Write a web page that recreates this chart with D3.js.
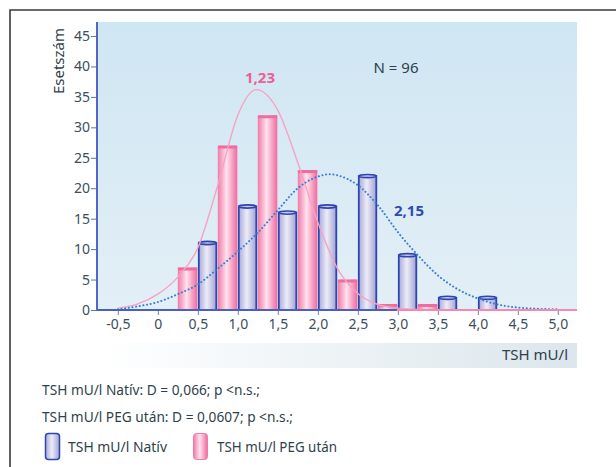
<!DOCTYPE html>
<html>
<head>
<meta charset="utf-8">
<script src="https://cdn.jsdelivr.net/npm/d3@7"></script>
<style>
body { margin: 0; background: #fff; }
svg text { font-family: "Noto Sans", "Open Sans", sans-serif; }
</style>
</head>
<body>
<div id="svg-area"></div>
<script>
var svgWidth = 616;
var svgHeight = 467;

// histogram bins (TSH mU/l) and counts
var binCenters = [0.5, 1.0, 1.5, 2.0, 2.5, 3.0, 3.5, 4.0];
var nativCounts = [11, 17, 16, 17, 22, 9, 2, 2];
var pegCounts = [7, 27, 32, 23, 5, 1, 1, 0];

// fitted curves
var nativCurveX = [-0.5, -0.25, 0, 0.25, 0.5, 0.75, 1.0, 1.25, 1.5, 1.75, 2.0, 2.15, 2.25, 2.5, 2.75, 3.0, 3.25, 3.5, 3.75, 4.0, 4.25, 4.5, 4.75, 5.0];
var nativCurveY = [0.1, 0.6, 1.3, 2.6, 4.2, 6.8, 9.6, 12.7, 16.4, 20.0, 21.9, 22.3, 22.1, 20.5, 17.2, 12.8, 9.0, 5.7, 3.4, 1.9, 0.9, 0.4, 0.2, 0.1];
var pegCurveX = [-0.5, -0.25, 0, 0.25, 0.5, 0.75, 1.0, 1.23, 1.5, 1.75, 2.0, 2.25, 2.5, 2.75, 3.0, 3.25];
var pegCurveY = [0.3, 1.0, 2.6, 5.4, 10.2, 20.5, 32.0, 36.2, 32.8, 24.2, 14.4, 6.7, 2.7, 0.9, 0.3, 0.1];

var yTicks = [0, 5, 10, 15, 20, 25, 30, 35, 40, 45];
var xTicks = [-0.5, 0, 0.5, 1.0, 1.5, 2.0, 2.5, 3.0, 3.5, 4.0, 4.5, 5.0];
var xTickLabels = ["-0,5", "0", "0,5", "1,0", "1,5", "2,0", "2,5", "3,0", "3,5", "4,0", "4,5", "5,0"];

var margin = { top: 22, right: 39, bottom: 157, left: 97 };
var width = svgWidth - margin.left - margin.right;
var height = svgHeight - margin.top - margin.bottom;

var svg = d3.select("#svg-area")
    .append("svg")
    .attr("width", svgWidth)
    .attr("height", svgHeight);

var defs = svg.append("defs");

function hGrad(id, stops) {
    var g = defs.append("linearGradient").attr("id", id)
        .attr("x1", "0").attr("x2", "1").attr("y1", "0").attr("y2", "0");
    stops.forEach(s => g.append("stop").attr("offset", s[0]).attr("stop-color", s[1]));
}
hGrad("blueGrad", [[0, "#a9a9d8"], [0.45, "#ececf8"], [1, "#a2a2d4"]]);
hGrad("pinkGrad", [[0, "#f27aa8"], [0.45, "#fde2ec"], [1, "#f06a9e"]]);
hGrad("bandGrad", [[0, "#ffffff"], [1, "#dbe6ec"]]);

var bg = defs.append("linearGradient").attr("id", "bgGrad")
    .attr("x1", "0").attr("x2", "0").attr("y1", "0").attr("y2", "1");
bg.append("stop").attr("offset", 0).attr("stop-color", "#cfe6f3");
bg.append("stop").attr("offset", 1).attr("stop-color", "#e3eff6");

defs.append("clipPath").attr("id", "plotClip")
    .append("rect").attr("width", width).attr("height", height);

// outer frame
svg.append("path")
    .attr("d", "M10,467 L10,10 L616,10")
    .attr("fill", "none")
    .attr("stroke", "#3a3a3a")
    .attr("stroke-width", 1.6);

var chartGroup = svg.append("g")
    .attr("transform", `translate(${margin.left}, ${margin.top})`);

// plot background + band for the x axis title
chartGroup.append("rect")
    .attr("width", width).attr("height", height)
    .attr("fill", "url(#bgGrad)");
chartGroup.append("rect")
    .attr("y", height + 33).attr("width", width).attr("height", 25)
    .attr("fill", "url(#bandGrad)");

var xScale = d3.scaleLinear().domain([-0.76, 5.24]).range([0, width]);
var yScale = d3.scaleLinear().domain([0, 47.3]).range([height, 0]);

// bars: PEG after (pink) on the left half of each bin, native (blue) on the right
var pink = chartGroup.append("g").selectAll("g")
    .data(binCenters.map((c, i) => ({ c: c, v: pegCounts[i] })).filter(d => d.v > 0))
    .enter().append("g");
pink.append("rect")
    .attr("x", d => xScale(d.c - 0.25))
    .attr("y", d => yScale(d.v))
    .attr("width", d => xScale(d.c) - xScale(d.c - 0.25) - 0.5)
    .attr("height", d => height - yScale(d.v))
    .attr("fill", "url(#pinkGrad)");
pink.append("rect")
    .attr("x", d => xScale(d.c - 0.25))
    .attr("y", d => yScale(d.v))
    .attr("width", d => xScale(d.c) - xScale(d.c - 0.25) - 0.5)
    .attr("height", 3)
    .attr("rx", 1.5)
    .attr("fill", "#ef6c9f");

var blue = chartGroup.append("g").selectAll("g")
    .data(binCenters.map((c, i) => ({ c: c, v: nativCounts[i] })))
    .enter().append("g");
blue.append("rect")
    .attr("x", d => xScale(d.c) + 1)
    .attr("y", d => yScale(d.v))
    .attr("width", d => xScale(d.c + 0.25) - xScale(d.c) - 2.5)
    .attr("height", d => height - yScale(d.v))
    .attr("fill", "url(#blueGrad)")
    .attr("stroke", "#2f46b0")
    .attr("stroke-width", 1.8);
blue.append("ellipse")
    .attr("cx", d => (xScale(d.c) + xScale(d.c + 0.25)) / 2 - 0.25)
    .attr("cy", d => yScale(d.v))
    .attr("rx", d => (xScale(d.c + 0.25) - xScale(d.c) - 2.5) / 2)
    .attr("ry", 1.6)
    .attr("fill", "#c9c9ea")
    .attr("stroke", "#2f46b0")
    .attr("stroke-width", 1.6);

// fitted curves
var curveLine = d3.line()
    .x(d => xScale(d[0]))
    .y(d => yScale(d[1]))
    .curve(d3.curveMonotoneX);

var curves = chartGroup.append("g").attr("clip-path", "url(#plotClip)");
curves.append("path")
    .attr("d", curveLine(pegCurveX.map((v, i) => [v, pegCurveY[i]])))
    .attr("fill", "none")
    .attr("stroke", "#f5a3c3")
    .attr("stroke-width", 1.4);
curves.append("path")
    .attr("d", curveLine(nativCurveX.map((v, i) => [v, nativCurveY[i]])))
    .attr("fill", "none")
    .attr("stroke", "#3a7ed3")
    .attr("stroke-width", 2)
    .attr("stroke-linecap", "round")
    .attr("stroke-dasharray", "0.1,3.6");

// axes
var bottomAxis = d3.axisBottom(xScale)
    .tickValues(xTicks)
    .tickFormat((d, i) => xTickLabels[i])
    .tickSizeInner(5).tickSizeOuter(0).tickPadding(4);
var leftAxis = d3.axisLeft(yScale)
    .tickValues(yTicks)
    .tickSizeInner(6).tickSizeOuter(0).tickPadding(1);

var xAxisG = chartGroup.append("g")
    .attr("transform", `translate(0, ${height})`)
    .call(bottomAxis);
xAxisG.select(".domain").remove();
xAxisG.selectAll(".tick line").attr("stroke", "#7a8590");
xAxisG.selectAll("text").attr("font-size", "14px").attr("fill", "#3b4e5c");

var yAxisG = chartGroup.append("g").call(leftAxis);
yAxisG.select(".domain").remove();
yAxisG.selectAll(".tick line").attr("stroke", "#6a7580");
yAxisG.selectAll("text").attr("font-size", "14px").attr("fill", "#3b4e5c");

// axis lines
chartGroup.append("line")
    .attr("x1", 0).attr("x2", xScale(2.99)).attr("y1", height).attr("y2", height)
    .attr("stroke", "#4a5fc4").attr("stroke-width", 2);
chartGroup.append("line")
    .attr("x1", xScale(2.99)).attr("x2", width).attr("y1", height).attr("y2", height)
    .attr("stroke", "#f48ab3").attr("stroke-width", 2);
chartGroup.append("line")
    .attr("x1", 0).attr("x2", 0).attr("y1", 0).attr("y2", height)
    .attr("stroke", "#5366c8").attr("stroke-width", 2);

// axis titles
chartGroup.append("text")
    .attr("transform", "rotate(-90)")
    .attr("x", -39).attr("y", -33)
    .attr("text-anchor", "middle")
    .attr("font-size", "15px")
    .attr("fill", "#2f3f4c")
    .text("Esetszám");

chartGroup.append("text")
    .attr("x", width - 9).attr("y", height + 50)
    .attr("text-anchor", "end")
    .attr("font-size", "15px")
    .attr("fill", "#2f3f4c")
    .text("TSH mU/l");

// annotations
chartGroup.append("text")
    .attr("x", 299).attr("y", 51)
    .attr("text-anchor", "middle")
    .attr("font-size", "15px")
    .attr("fill", "#2f3f4c")
    .text("N = 96");
chartGroup.append("text")
    .attr("x", 163).attr("y", 61)
    .attr("text-anchor", "middle")
    .attr("font-size", "15px")
    .attr("font-weight", "bold")
    .attr("fill", "#ec5e95")
    .text("1,23");
chartGroup.append("text")
    .attr("x", 312).attr("y", 194)
    .attr("text-anchor", "middle")
    .attr("font-size", "15px")
    .attr("font-weight", "bold")
    .attr("fill", "#2e4cb2")
    .text("2,15");

// statistics and legend
svg.append("text")
    .attr("x", 42).attr("y", 395)
    .attr("font-size", "15px").attr("fill", "#2f3f4c")
    .attr("textLength", 218).attr("lengthAdjust", "spacingAndGlyphs")
    .text("TSH mU/l Natív: D = 0,066; p <n.s.;");
svg.append("text")
    .attr("x", 42).attr("y", 422)
    .attr("font-size", "15px").attr("fill", "#2f3f4c")
    .attr("textLength", 251).attr("lengthAdjust", "spacingAndGlyphs")
    .text("TSH mU/l PEG után: D = 0,0607; p <n.s.;");

svg.append("rect")
    .attr("x", 45.5).attr("y", 433.5).attr("width", 14).attr("height", 26).attr("rx", 3)
    .attr("fill", "url(#blueGrad)").attr("stroke", "#2f46b0").attr("stroke-width", 1.5);
svg.append("text")
    .attr("x", 68).attr("y", 452)
    .attr("font-size", "15px").attr("fill", "#2f3f4c")
    .attr("textLength", 99).attr("lengthAdjust", "spacingAndGlyphs")
    .text("TSH mU/l Natív");
svg.append("rect")
    .attr("x", 193.5).attr("y", 433.5).attr("width", 14).attr("height", 26).attr("rx", 3)
    .attr("fill", "url(#pinkGrad)").attr("stroke", "#f27aa8").attr("stroke-width", 1);
svg.append("text")
    .attr("x", 217).attr("y", 452)
    .attr("font-size", "15px").attr("fill", "#2f3f4c")
    .attr("textLength", 120).attr("lengthAdjust", "spacingAndGlyphs")
    .text("TSH mU/l PEG után");
</script>
</body>
</html>
